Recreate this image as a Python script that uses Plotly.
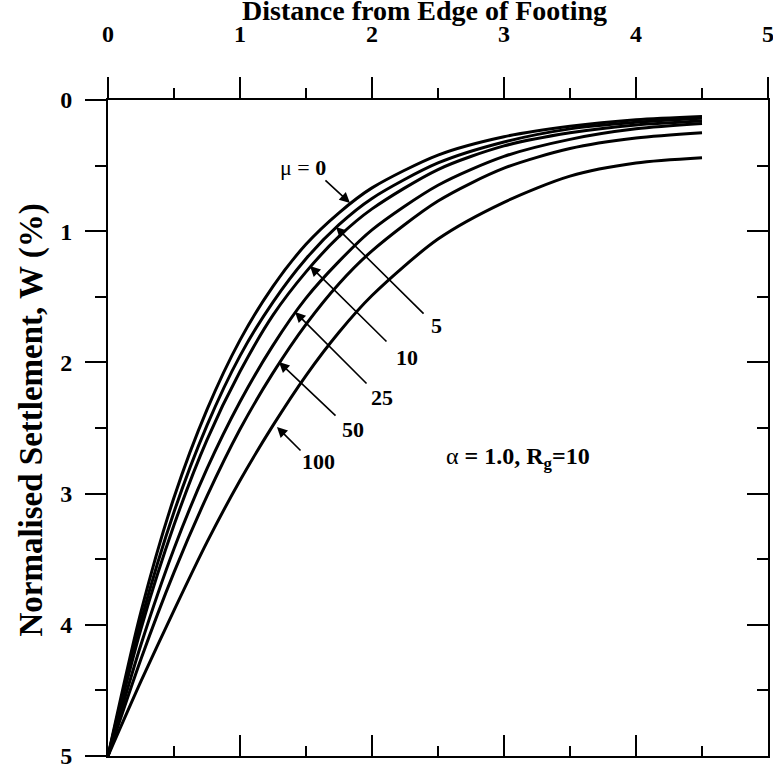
import plotly.graph_objects as go

# Distance from edge of footing (horizontal positions of the tabulated points)
distance = [0.0, 0.25, 0.5, 0.75, 1.0, 1.25, 1.5, 1.75, 2.0, 2.5, 3.0, 3.5, 4.0, 4.5]

# Normalised settlement W (%) for each value of mu
w_mu0 = [5.0, 3.90, 3.03, 2.36, 1.83, 1.42, 1.10, 0.86, 0.67, 0.42, 0.28, 0.20, 0.15, 0.125]
w_mu5 = [5.0, 3.97, 3.14, 2.48, 1.95, 1.54, 1.21, 0.95, 0.75, 0.48, 0.32, 0.22, 0.17, 0.14]
w_mu10 = [5.0, 4.03, 3.24, 2.59, 2.07, 1.64, 1.31, 1.04, 0.83, 0.53, 0.35, 0.25, 0.19, 0.16]
w_mu25 = [5.0, 4.15, 3.42, 2.81, 2.30, 1.87, 1.51, 1.23, 0.99, 0.65, 0.43, 0.30, 0.22, 0.18]
w_mu50 = [5.0, 4.26, 3.60, 3.02, 2.51, 2.08, 1.71, 1.40, 1.15, 0.77, 0.52, 0.37, 0.29, 0.25]
w_mu100 = [5.0, 4.43, 3.89, 3.37, 2.90, 2.48, 2.10, 1.77, 1.49, 1.06, 0.78, 0.58, 0.48, 0.44]

curves = [w_mu0, w_mu5, w_mu10, w_mu25, w_mu50, w_mu100]
mu_labels = ["0", "5", "10", "25", "50", "100"]

FONT = "Liberation Serif"

fig = go.Figure()
for lbl, w in zip(mu_labels, curves):
    fig.add_trace(go.Scatter(
        x=distance, y=w, mode="lines", name="mu = " + lbl,
        line=dict(color="black", width=3, shape="spline", smoothing=0.8),
        showlegend=False, hoverinfo="skip",
    ))

# invisible trace that carries the mirrored (bottom/right) axes
fig.add_trace(go.Scatter(x=[0, 5], y=[0, 5], xaxis="x2", yaxis="y2",
                         mode="markers", marker=dict(opacity=0),
                         showlegend=False, hoverinfo="skip"))

tickfont = dict(family=FONT, size=24, color="black", weight="bold")
common = dict(range=[0, 5], dtick=1, tick0=0, showgrid=False, zeroline=False,
              showline=True, linecolor="black", linewidth=2,
              tickcolor="black", tickwidth=2, ticklabeloverflow="allow",
              automargin=False)

fig.update_layout(
    width=773, height=765,
    margin=dict(l=108, r=5, t=100, b=9),
    paper_bgcolor="white", plot_bgcolor="white",
    xaxis=dict(**common, side="top", ticks="outside", ticklen=21,
               tickfont=tickfont, ticklabelstandoff=25,
               minor=dict(dtick=0.5, ticks="outside", ticklen=10,
                          tickwidth=2, tickcolor="black", showgrid=False)),
    yaxis=dict(**common, autorange=False, ticks="outside", ticklen=21,
               tickfont=tickfont, ticklabelstandoff=8,
               minor=dict(dtick=0.5, ticks="outside", ticklen=11,
                          tickwidth=2, tickcolor="black", showgrid=False)),
    xaxis2=dict(**common, overlaying="x", side="bottom", ticks="inside",
                ticklen=21, showticklabels=False,
                minor=dict(dtick=0.5, ticks="inside", ticklen=10,
                           tickwidth=2, tickcolor="black", showgrid=False)),
    yaxis2=dict(**common, overlaying="y", side="right", ticks="inside",
                ticklen=21, showticklabels=False,
                minor=dict(dtick=0.5, ticks="inside", ticklen=11,
                           tickwidth=2, tickcolor="black", showgrid=False)),
)
fig.update_yaxes(range=[5, 0])
fig.update_xaxes(range=[0, 5])

# axis titles
fig.add_annotation(x=0.48, y=1, xref="paper", yref="paper", yshift=90,
                   xanchor="center", yanchor="middle", showarrow=False,
                   text="<b>Distance from Edge of Footing</b>",
                   font=dict(family=FONT, size=28, color="black"))
fig.add_annotation(x=-0.116, y=0.512, xref="paper", yref="paper",
                   xanchor="center", yanchor="middle",
                   textangle=-90, showarrow=False,
                   text="<b>Normalised Settlement, W (%)</b>",
                   font=dict(family=FONT, size=33, color="black"))

# arrows pointing from each label to its curve
arrows = [
    # (tail_x, tail_y, tip_x, tip_y)
    (1.636, 0.602, 1.833, 0.785),
    (2.402, 1.639, 1.727, 0.968),
    (2.121, 1.852, 1.530, 1.265),
    (1.970, 2.172, 1.417, 1.616),
    (1.735, 2.416, 1.295, 1.997),
    (1.470, 2.683, 1.280, 2.492),
]
for tx, ty, hx, hy in arrows:
    fig.add_annotation(x=hx, y=hy, ax=tx, ay=ty, xref="x", yref="y",
                       axref="x", ayref="y", text="", showarrow=True,
                       arrowhead=2, arrowsize=1.3, arrowwidth=1.6,
                       arrowcolor="black")

label_pos = [(1.477, 0.511), (2.492, 1.715), (2.265, 1.959),
             (2.076, 2.264), (1.856, 2.515), (1.591, 2.759)]
label_txt = ["\u03bc = <b>0</b>"] + ["<b>" + m + "</b>" for m in mu_labels[1:]]
for (lx, ly), t in zip(label_pos, label_txt):
    fig.add_annotation(x=lx, y=ly, xref="x", yref="y", text=t,
                       showarrow=False,
                       font=dict(family=FONT, size=22, color="black"))

fig.add_annotation(x=3.106, y=2.729, xref="x", yref="y",
                   text="\u03b1 <b>= 1.0, R<sub>g</sub>=10</b>",
                   showarrow=False,
                   font=dict(family=FONT, size=24, color="black"))

fig.write_html("out.html")
